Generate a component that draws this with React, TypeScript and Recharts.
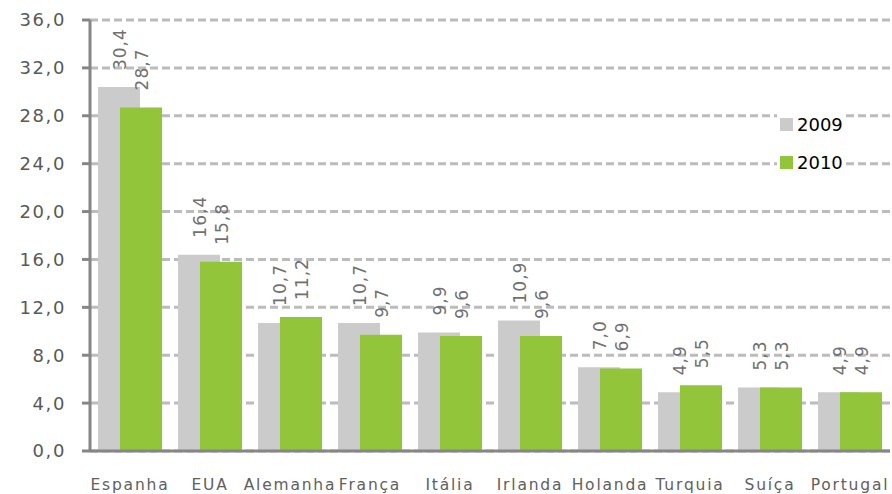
import { Bar, BarChart, CartesianGrid, XAxis, YAxis } from 'recharts'

const countries = ['Espanha', 'EUA', 'Alemanha', 'França', 'Itália', 'Irlanda', 'Holanda', 'Turquia', 'Suíça', 'Portugal']
const values2009 = [30.4, 16.4, 10.7, 10.7, 9.9, 10.9, 7.0, 4.9, 5.3, 4.9]
const values2010 = [28.7, 15.8, 11.2, 9.7, 9.6, 9.6, 6.9, 5.5, 5.3, 4.9]
const yTicks = [0, 4, 8, 12, 16, 20, 24, 28, 32, 36]

const data = countries.map((name, i) => ({ name, y2009: values2009[i], y2010: values2010[i] }))

const FONT = '"DejaVu Sans", Verdana, sans-serif'
const GRAY = '#cbcbcb'
const GREEN = '#92c53a'

const fmt = (v: number) => v.toFixed(1).replace('.', ',')

function ValueLabel(props: any) {
  const { x, y, width, value } = props
  const cx = x + width / 2 + 1
  const ty = y - 17
  return (
    <text
      x={cx}
      y={ty}
      transform={`rotate(-90, ${cx}, ${ty})`}
      textAnchor="start"
      dominantBaseline="central"
      fill="#707070"
      fontSize={17}
      letterSpacing={1}
      fontFamily={FONT}
    >
      {fmt(value)}
    </text>
  )
}

function YTick(props: any) {
  const { x, y, payload } = props
  return (
    <text x={x - 14} y={y} dy="0.36em" textAnchor="end" fill="#595959" fontSize={18} letterSpacing={1.6} fontFamily={FONT}>
      {fmt(payload.value)}
    </text>
  )
}

function XTick(props: any) {
  const { x, y, payload } = props
  return (
    <text x={x} y={y + 30.5} textAnchor="middle" fill="#606060" fontSize={15.5} letterSpacing={1.8} fontFamily={FONT}>
      {payload.value}
    </text>
  )
}

// legend sits over the gridlines with a white backing, like the original
function LegendBox() {
  const items = [
    { label: '2009', color: GRAY },
    { label: '2010', color: GREEN },
  ]
  return (
    <div style={{ position: 'absolute', left: 777, top: 113, fontFamily: FONT, fontSize: 18, color: '#000' }}>
      {items.map((it) => (
        <div
          key={it.label}
          style={{ display: 'flex', alignItems: 'center', background: '#fff', padding: '0 3px 0 3px', marginBottom: 16, height: 22 }}
        >
          <span style={{ display: 'inline-block', width: 13, height: 13, background: it.color, marginRight: 4 }} />
          <span>{it.label}</span>
        </div>
      ))}
    </div>
  )
}

export default function App() {
  return (
    <div style={{ position: 'absolute', left: 0, top: 0, width: 892, height: 494, background: '#fff', overflow: 'hidden' }}>
      <BarChart width={892} height={494} data={data} margin={{ top: 20, right: 2, bottom: 0, left: 0 }} barSize={42} barGap={-20}>
        <CartesianGrid vertical={false} stroke="#bcbcbc" strokeWidth={3} strokeDasharray="8 4" />
        <XAxis
          dataKey="name"
          height={43}
          tick={<XTick />}
          tickLine={false}
          axisLine={{ stroke: '#868686', strokeWidth: 3 }}
          interval={0}
        />
        <YAxis
          width={90}
          domain={[0, 36]}
          ticks={yTicks}
          tick={<YTick />}
          tickSize={8}
          tickLine={{ stroke: '#868686', strokeWidth: 3 }}
          axisLine={{ stroke: '#868686', strokeWidth: 3 }}
          interval={0}
        />
        <Bar dataKey="y2009" name="2009" fill={GRAY} isAnimationActive={false} label={<ValueLabel />} />
        <Bar dataKey="y2010" name="2010" fill={GREEN} isAnimationActive={false} label={<ValueLabel />} />
      </BarChart>
      <LegendBox />
    </div>
  )
}
